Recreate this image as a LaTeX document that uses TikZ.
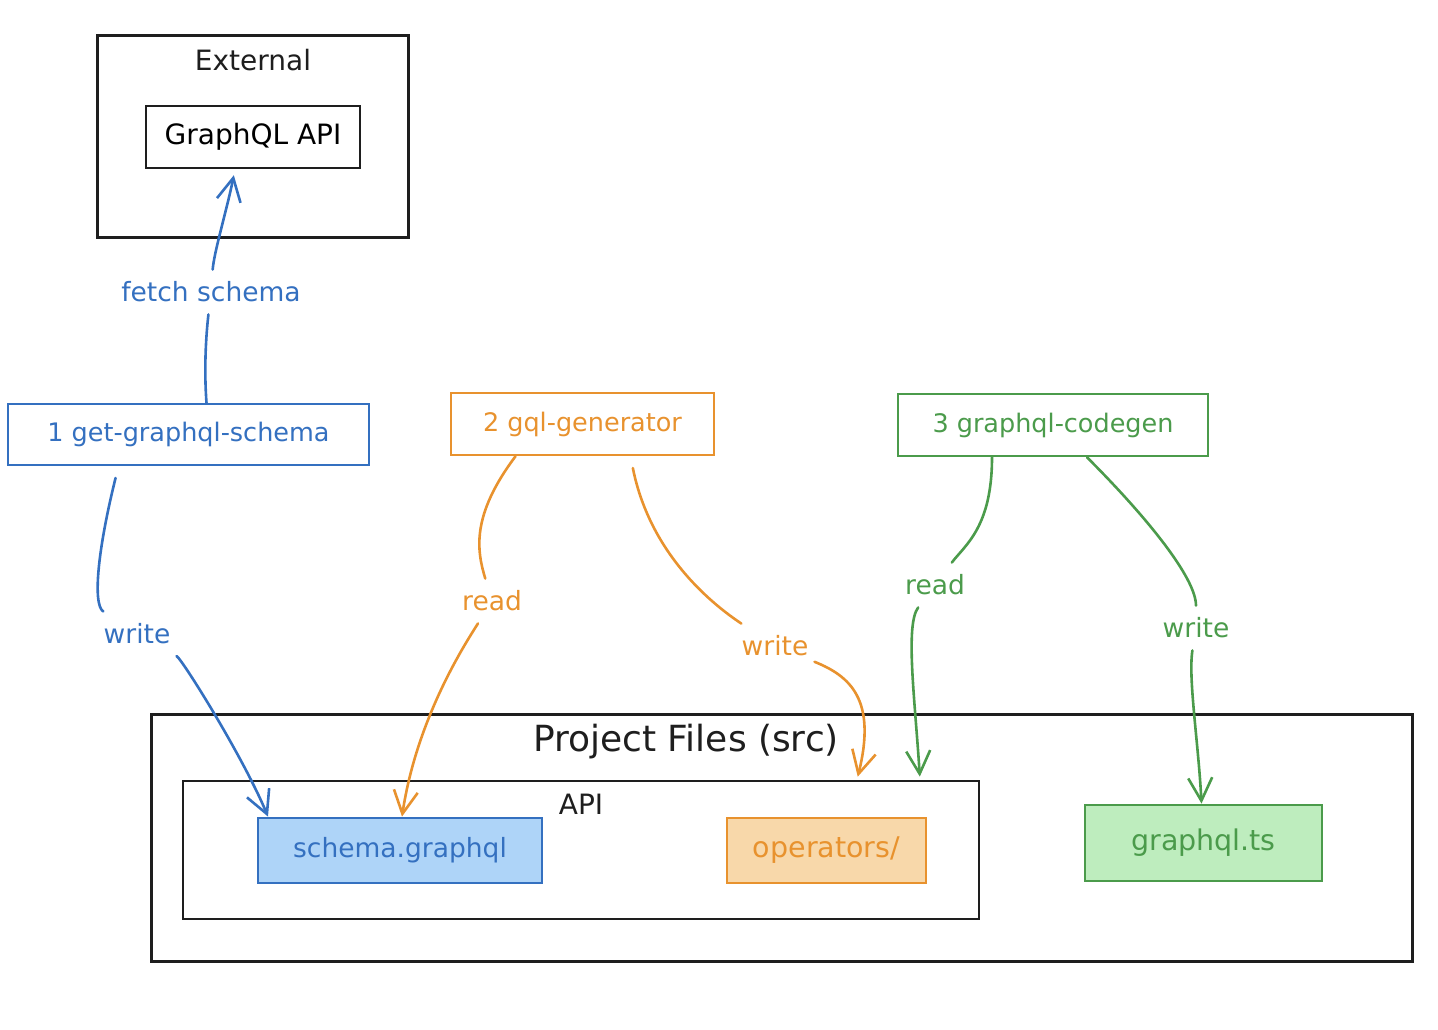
\documentclass[tikz,border=0pt]{standalone}
\usepackage{fontspec}
\setmainfont{DejaVu Sans}
\usetikzlibrary{arrows.meta}
\definecolor{ink}{HTML}{1E1E1E}
\definecolor{bluestroke}{HTML}{3470C0}
\definecolor{bluefill}{HTML}{AED4F8}
\definecolor{orangestroke}{HTML}{E8922E}
\definecolor{orangefill}{HTML}{F8D8AA}
\definecolor{greenstroke}{HTML}{4B9B4B}
\definecolor{greenfill}{HTML}{BEEDBE}
\tikzset{
  container/.style={draw=ink, line width=3pt, inner sep=0pt},
  box/.style={draw=ink, line width=2.6pt, inner sep=0pt, font=\fontsize{28}{32}\selectfont},
  title/.style={text=ink, inner sep=0pt, font=\fontsize{28}{32}\selectfont},
  bigtitle/.style={text=ink, inner sep=0pt, font=\fontsize{36}{40}\selectfont},
  stepbox/.style={line width=2.6pt, fill=white, inner sep=0pt, font=\fontsize{25.5}{29}\selectfont},
  filebox/.style={line width=2.8pt, inner sep=0pt, font=\fontsize{28.5}{32}\selectfont},
  edgelabel/.style={inner xsep=6pt, inner ysep=12pt, font=\fontsize{26.5}{30}\selectfont},
  link/.style={line width=2.6pt, line cap=round},
  tip/.style={-{Straight Barb[length=23pt,width=24pt,line width=2.6pt]}},
}
\begin{document}
\begin{tikzpicture}[x=1pt,y=-1pt]
\useasboundingbox (0,0) rectangle (1438,1030);

% external service
\node[container, minimum width=311pt, minimum height=201pt] (ext) at (252.5,136.5) {};
\node[title] (extlabel) at (253,60) {External};
\node[box, minimum width=214pt, minimum height=62pt] (gqlapi) at (253,137) {GraphQL API};

% pipeline steps
\node[stepbox, draw=bluestroke, text=bluestroke, minimum width=361pt, minimum height=61pt] (s1) at (188.5,434.5) {1 get-graphql-schema};
\node[stepbox, draw=orangestroke, text=orangestroke, minimum width=263pt, minimum height=62pt] (s2) at (582.5,424) {2 gql-generator};
\node[stepbox, draw=greenstroke, text=greenstroke, minimum width=310pt, minimum height=62pt] (s3) at (1053,425) {3 graphql-codegen};

% project files
\node[container, minimum width=1261pt, minimum height=247pt] (proj) at (781.5,837.5) {};
\node[bigtitle] (projlabel) at (686,742) {Project Files (src)};
\node[container, line width=2.8pt, minimum width=796pt, minimum height=138pt] (apidir) at (581,850) {};
\node[title] (apilabel) at (581,804) {API};
\node[filebox, draw=bluestroke, fill=bluefill, text=bluestroke, font=\fontsize{26.5}{30}\selectfont, minimum width=284pt, minimum height=65pt] (schema) at (400,850.5) {schema.graphql};
\node[filebox, draw=orangestroke, fill=orangefill, text=orangestroke, minimum width=199pt, minimum height=65pt] (ops) at (826.5,850.5) {operators/};
\node[filebox, draw=greenstroke, fill=greenfill, text=greenstroke, minimum width=237pt, minimum height=76pt] (gts) at (1203.5,843) {graphql.ts};

% connector labels
\node[edgelabel, text=bluestroke] (lf) at (211,292) {fetch schema};
\node[edgelabel, text=bluestroke] (lw1) at (137,634) {write};
\node[edgelabel, text=orangestroke] (lr2) at (492,601) {read};
\node[edgelabel, text=orangestroke] (lw2) at (775,646) {write};
\node[edgelabel, text=greenstroke] (lr3) at (935,585) {read};
\node[edgelabel, text=greenstroke] (lw3) at (1196,628) {write};

% step 1: fetch schema, write schema.graphql
\draw[link, bluestroke] ([xshift=18pt]s1.north) .. controls +(-3,-40) and +(-4,35) .. (lf);
\draw[link, tip, bluestroke, shorten >=6pt] (lf) .. controls +(3,-40) and +(-8,40) .. ([xshift=-18pt]gqlapi.south);
\draw[link, bluestroke, shorten <=12pt] ([xshift=-70pt]s1.south) .. controls +(-20,80) and +(-45,-30) .. (lw1);
\draw[link, tip, bluestroke] (lw1) .. controls +(45,25) and +(-25,-60) .. ([xshift=-132pt]schema.north);

% step 2: read schema, write operators
\draw[link, orangestroke] ([xshift=-67pt]s2.south) .. controls +(-45,60) and +(-15,-50) .. (lr2);
\draw[link, tip, orangestroke] (lr2) .. controls +(-25,40) and +(15,-100) .. ([xshift=2pt]schema.north);
\draw[link, orangestroke, shorten <=12pt] ([xshift=48pt]s2.south) .. controls +(20,100) and +(-60,-40) .. (lw2);
\draw[link, tip, orangestroke, shorten >=3pt] (lw2) .. controls +(75,30) and +(20,-80) .. ([xshift=276pt]apidir.north);

% step 3: read operators, write graphql.ts
\draw[link, greenstroke] ([xshift=-61pt]s3.south) .. controls +(0,70) and +(30,-40) .. (lr3);
\draw[link, tip, greenstroke, shorten >=3pt] (lr3) .. controls +(-30,40) and +(-5,-80) .. ([xshift=339pt]apidir.north);
\draw[link, greenstroke] ([xshift=34pt]s3.south) .. controls +(60,60) and +(0,-50) .. (lw3);
\draw[link, tip, greenstroke] (lw3) .. controls +(-8,50) and +(-3,-60) .. ([xshift=-2pt]gts.north);
\end{tikzpicture}
\end{document}
